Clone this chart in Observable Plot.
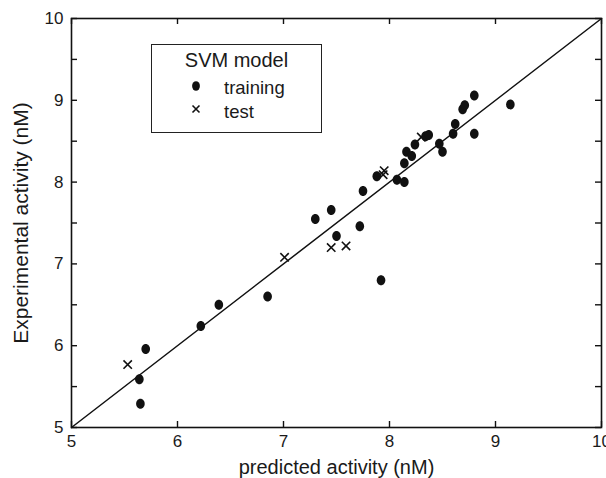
<!DOCTYPE html>
<html>
<head>
<meta charset="utf-8">
<script src="https://cdn.jsdelivr.net/npm/d3@7"></script>
<script src="https://cdn.jsdelivr.net/npm/@observablehq/plot@0.6"></script>
<style>
  html, body { margin: 0; padding: 0; background: #fff; }
  #wrap { position: relative; width: 606px; height: 478px; font-family: "Liberation Sans", Arial, sans-serif; color: #1a1a1a; }
  g[aria-label="x-axis label"] { font-size: 20px; }
  g[aria-label="y-axis label"] { font-size: 21px; }
  #legend { position: absolute; left: 151px; top: 44px; width: 171px; height: 89px; border: 1.3px solid #222; box-sizing: border-box; background: #fff; }
  #legend .title { position: absolute; left: 0; width: 100%; top: 4px; text-align: center; font-size: 20px; }
  #legend .row { position: absolute; left: 0; font-size: 18.5px; }
  #legend svg { position: absolute; }
</style>
</head>
<body>
<div id="wrap"></div>
<script>
// ---- data ----
const trainingPredicted = [5.64, 5.65, 5.70, 6.22, 6.39, 6.85, 7.30, 7.45, 7.50, 7.72, 7.75, 7.92, 7.88, 8.07, 8.14, 8.14, 8.16, 8.21, 8.24, 8.34, 8.37, 8.47, 8.50, 8.60, 8.62, 8.69, 8.71, 8.80, 8.80, 9.14];
const trainingExperimental = [5.59, 5.29, 5.96, 6.24, 6.50, 6.60, 7.55, 7.66, 7.34, 7.46, 7.89, 6.80, 8.07, 8.03, 8.00, 8.23, 8.37, 8.32, 8.46, 8.56, 8.575, 8.47, 8.37, 8.59, 8.71, 8.89, 8.94, 9.06, 8.59, 8.95];
const testPredicted = [5.53, 7.01, 7.45, 7.59, 7.95, 7.94, 8.30];
const testExperimental = [5.77, 7.08, 7.20, 7.22, 8.14, 8.09, 8.55];
const identityLine = [5, 10];
const xDomain = [5, 10];
const yDomain = [5, 10];
const xTicks = [5, 6, 7, 8, 9, 10];
const yTicks = [5, 6, 7, 8, 9, 10];
const yMinorTicks = [5, 5.5, 6, 6.5, 7, 7.5, 8, 8.5, 9, 9.5, 10];
const legendTitle = "SVM model";
const seriesNames = ["training", "test"];
const xLabel = "predicted activity (nM)";
const yLabel = "Experimental activity (nM)";

const training = trainingPredicted.map((p, i) => ({p, e: trainingExperimental[i]}));
const test = testPredicted.map((p, i) => ({p, e: testExperimental[i]}));
const diag = identityLine.map(v => ({p: v, e: v}));

// custom symbols
const K = 0.5523;
const ellipse = {
  draw(ctx) {
    const rx = 4.3, ry = 5;
    ctx.moveTo(rx, 0);
    ctx.bezierCurveTo(rx, ry * K, rx * K, ry, 0, ry);
    ctx.bezierCurveTo(-rx * K, ry, -rx, ry * K, -rx, 0);
    ctx.bezierCurveTo(-rx, -ry * K, -rx * K, -ry, 0, -ry);
    ctx.bezierCurveTo(rx * K, -ry, rx, -ry * K, rx, 0);
    ctx.closePath();
  }
};
const cross = {
  draw(ctx) {
    const s = 4.2;
    ctx.moveTo(-s, -s); ctx.lineTo(s, s);
    ctx.moveTo(-s, s); ctx.lineTo(s, -s);
  }
};

const intFmt = d3.format("d");

// layout
const W = 606, H = 478, ML = 71, MR = 5, MT = 18, MB = 51;
const frameW = W - ML - MR, frameH = H - MT - MB;
const T = 6; // inward tick length in px
const tx = (xDomain[1] - xDomain[0]) * T / frameW;
const ty = (yDomain[1] - yDomain[0]) * T / frameH;
const tickStyle = {stroke: "#111", strokeWidth: 1.4};

const chart = Plot.plot({
  width: W,
  height: H,
  marginLeft: ML,
  marginRight: MR,
  marginTop: MT,
  marginBottom: MB,
  style: {fontFamily: '"Liberation Sans", Arial, sans-serif', fontSize: "17px", color: "#1a1a1a", background: "#fff"},
  x: {domain: xDomain},
  y: {domain: yDomain},
  marks: [
    Plot.line(diag, {x: "p", y: "e", stroke: "#111", strokeWidth: 1.5}),
    Plot.dot(test, {x: "p", y: "e", symbol: cross, r: 5, stroke: "#111", strokeWidth: 1.6, fill: "none"}),
    Plot.dot(training, {x: "p", y: "e", symbol: ellipse, r: 5, fill: "#111", stroke: "none"}),
    // inward tick marks on four sides
    Plot.ruleX(xTicks, {x: d => d, y1: yDomain[0], y2: yDomain[0] + ty, ...tickStyle}),
    Plot.ruleX(xTicks, {x: d => d, y1: yDomain[1] - ty, y2: yDomain[1], ...tickStyle}),
    Plot.ruleY(yMinorTicks, {y: d => d, x1: xDomain[0], x2: xDomain[0] + tx, ...tickStyle}),
    Plot.ruleY(yMinorTicks, {y: d => d, x1: xDomain[1] - tx, x2: xDomain[1], ...tickStyle}),
    // labels
    Plot.axisX(xTicks, {anchor: "bottom", tickSize: 0, tickPadding: 7, tickFormat: intFmt, label: xLabel, labelAnchor: "center", labelOffset: 46, labelArrow: "none"}),
    Plot.axisY(yTicks, {anchor: "left", tickSize: 0, tickPadding: 8, tickFormat: intFmt, label: yLabel, labelAnchor: "center", labelOffset: 58, labelArrow: "none"}),
    Plot.frame({stroke: "#111", strokeWidth: 1.6})
  ]
});

const wrap = document.getElementById("wrap");
wrap.appendChild(chart);

// legend overlay
const legend = document.createElement("div");
legend.id = "legend";
legend.innerHTML = `
  <div class="title">${legendTitle}</div>
  <svg width="20" height="20" style="left:34px; top:31px"><ellipse cx="10" cy="10" rx="3.9" ry="4.8" fill="#111"/></svg>
  <div class="row" style="left:72px; top:32px">${seriesNames[0]}</div>
  <svg width="20" height="20" style="left:34px; top:54px"><path d="M6.5,6.5L13.5,13.5M6.5,13.5L13.5,6.5" stroke="#111" stroke-width="1.6"/></svg>
  <div class="row" style="left:72px; top:56px">${seriesNames[1]}</div>
`;
wrap.appendChild(legend);
</script>
</body>
</html>
